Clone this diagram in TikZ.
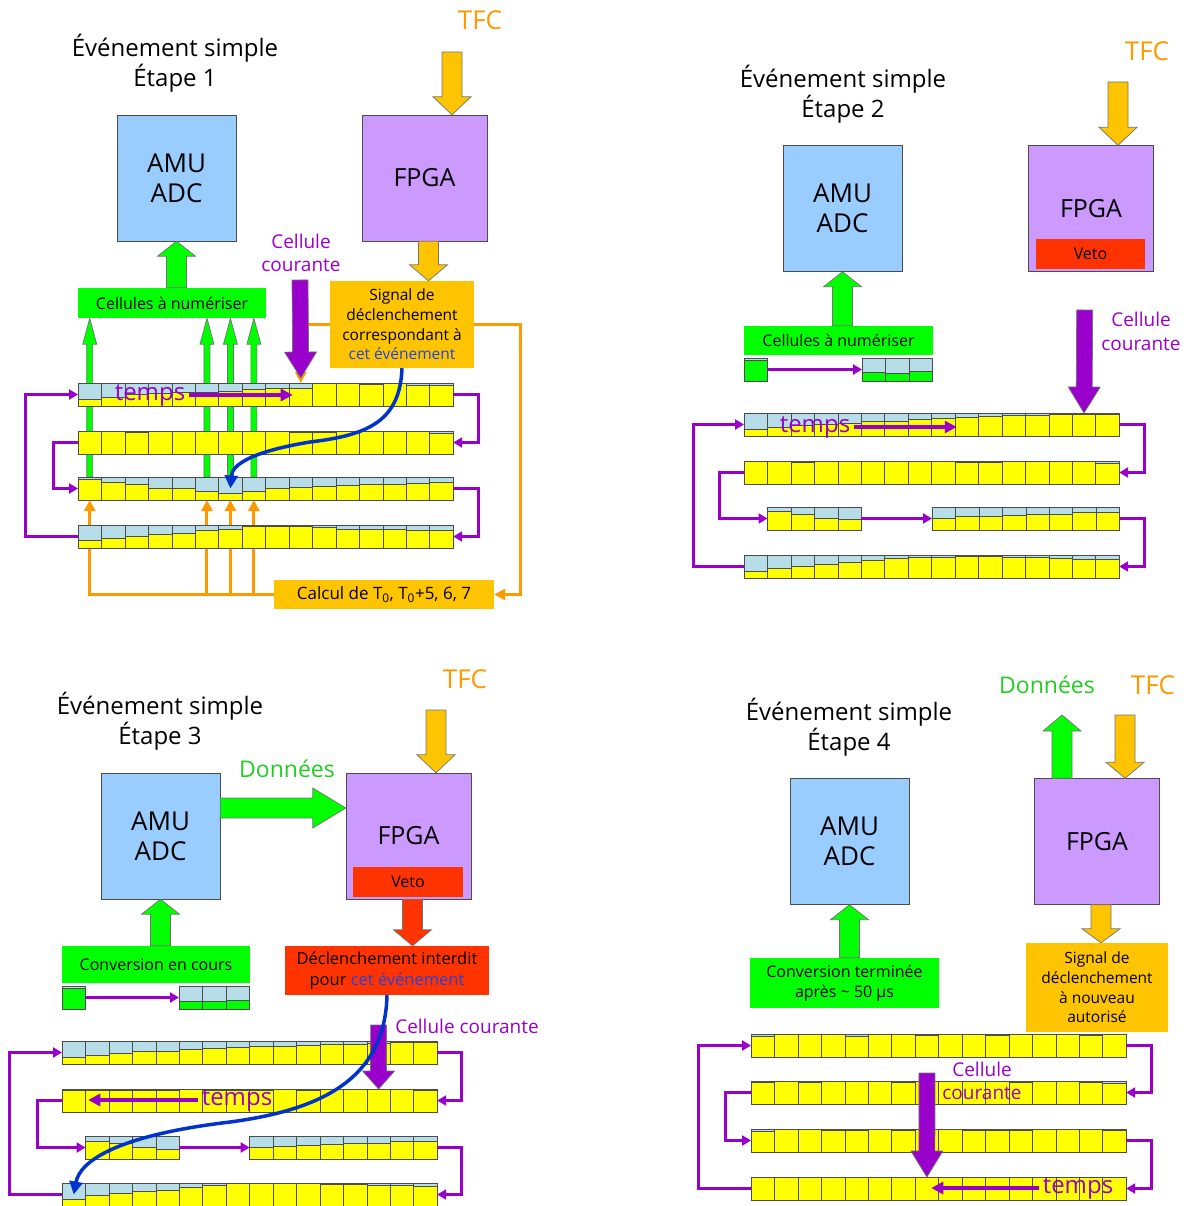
\documentclass[tikz,border=0pt]{standalone}
\usepackage{fontspec}
\setmainfont{Open Sans}
\usetikzlibrary{calc, arrows.meta, backgrounds}

\definecolor{amublue}{HTML}{99CCFF}
\definecolor{fpgapurple}{HTML}{CC99FF}
\definecolor{boxgreen}{HTML}{00FF00}
\definecolor{gold}{HTML}{FFC400}
\definecolor{tfcorange}{HTML}{FF9900}
\definecolor{purp}{HTML}{9900CC}
\definecolor{vetored}{HTML}{FF3300}
\definecolor{curveblue}{HTML}{0033CC}
\definecolor{cellblue}{HTML}{B7DEE8}
\definecolor{cellyellow}{HTML}{FFFF00}
\definecolor{textgreen}{HTML}{22CC22}
\definecolor{evblue}{HTML}{2244DD}

\newcommand{\fs}[2]{\fontsize{#1}{#2}\selectfont}

% fat block arrow: from, to, colour, half shaft, half head, head length
\newcommand{\bigarrow}[6]{%
  \coordinate (ba-h) at ($(#2)!#6!(#1)$);
  \filldraw[fill=#3, draw=black!55, line width=0.7pt]
    ($(#1)!#4!90:(#2)$) -- ($(ba-h)!#4!90:(#2)$) -- ($(ba-h)!#5!90:(#2)$) -- (#2)
    -- ($(ba-h)!#5!-90:(#2)$) -- ($(ba-h)!#4!-90:(#2)$) -- ($(#1)!#4!-90:(#2)$) -- cycle;
}

% row of memory cells: name, top left corner, number of cells, fill levels
\newcommand{\cellrow}[5][cellyellow]{%
  \node[rowframe, minimum width=#4*23.45pt, anchor=north west] (#2) at (#3) {};
  \foreach \lev [count=\k] in {#5} {
    \coordinate (#2-\k) at ($(#2.west)+({(\k-0.5)*23.45},0)$);
    \fill[cellblue] ($(#2.north west)+({(\k-1)*23.45},0)$) rectangle ++(23.45,23);
    \filldraw[fill=#1, draw=black!70, line width=0.6pt] ($(#2.south west)+({(\k-1)*23.45},0)$) rectangle ++(23.45,{-23*\lev});
    \draw[black!70, line width=0.6pt] ($(#2.north west)+({(\k-1)*23.45},0)$) rectangle ++(23.45,23);
  }
}

\tikzset{
  otip/.tip={Triangle[width=11pt,length=11pt]},
  ptip/.tip={Triangle[width=10pt,length=9pt]},
  paneltitle/.style={align=center, font=\fs{24}{30}},
  amubox/.style={draw=black!70, fill=amublue, minimum width=119pt, minimum height=126pt, align=center, font=\fs{26}{30}},
  fpgabox/.style={draw=black!70, fill=fpgapurple, minimum width=125pt, minimum height=126pt, font=\fs{25}{30}},
  vetobox/.style={fill=vetored, minimum width=109pt, minimum height=30pt, font=\fs{16}{18}},
  greenbox/.style={fill=boxgreen, minimum width=188pt, align=center, font=\fs{16}{20}},
  goldbox/.style={fill=gold, align=center, font=\fs{15.5}{19.7}},
  redbox/.style={fill=vetored, align=center, font=\fs{16.5}{20.5}},
  tfclabel/.style={text=tfcorange, font=\fs{26}{30}},
  datalabel/.style={text=textgreen, font=\fs{23}{27}},
  courlabel/.style={text=purp, align=center, font=\fs{19}{23.5}},
  tempslabel/.style={text=purp, font=\fs{24}{28}},
  rowframe/.style={draw=black!70, line width=0.6pt, inner sep=0pt, outer sep=0pt, minimum height=23pt},
  cyclearrow/.style={draw=purp, line width=3pt, -ptip},
  timearrow/.style={draw=purp, line width=3.5pt, -{Triangle[width=12pt,length=12pt]}},
  orangeline/.style={draw=tfcorange, line width=3pt, -otip},
  curvearrow/.style={draw=curveblue, line width=3.5pt, -{Triangle[width=13pt,length=13pt]}},
}

\begin{document}
\begin{tikzpicture}[x=1pt, y=-1pt]
  \useasboundingbox (0,0) rectangle (1189,1206);

  % ---------------- Etape 1 ----------------
  \node[paneltitle] (t1) at (175,63) {Événement simple\\Étape 1};
  \node[tfclabel] (tfc1) at (480,20) {TFC};
  \node[amubox] (amu1) at (176.5,178) {AMU\\ADC};
  \node[fpgabox] (fpga1) at (424.5,178) {FPGA};
  \node[greenbox, minimum height=30pt] (cel1) at (172,303) {Cellules à numériser};
  \node[goldbox, minimum width=144pt, minimum height=87pt] (sig1) at (402,324.5)
    {Signal de\\déclenchement\\correspondant à\\\textcolor{evblue}{cet événement}};
  \node[goldbox, minimum width=220pt, minimum height=29pt, font=\fs{17}{20}] (calc1) at (384,594.5)
    {Calcul de T\textsubscript{0}, T\textsubscript{0}+5, 6, 7};
  \node[courlabel] (cc1) at (301,253) {Cellule\\courante};

  % memory rows
  \cellrow{p1r1}{78,383}{16}{0.29,0.4,0.5,0.55,0.58,0.6,0.66,0.71,0.77,0.76,1,1,0.95,1,0.92,0.92}
  \cellrow{p1r2}{78,431}{16}{1,1,0.95,1,1,1,1,1,1,0.93,0.93,1,1,1,0.97,0.9}
  \cellrow{p1r3}{78,477}{16}{0.89,0.79,0.7,0.53,0.49,0.36,0.31,0.36,0.5,0.57,0.6,0.64,0.67,0.7,0.74,0.77}
  \cellrow{p1r4}{78,525}{16}{0.32,0.42,0.53,0.6,0.65,0.75,0.83,0.93,0.93,0.93,0.88,0.83,0.83,0.8,0.79,0.79}

  \begin{scope}[on background layer]
    % cells sent to the ADC
    \foreach \k in {1,6,7,8} {
      \coordinate (g\k) at (p1r3-\k |- p1r3.north);
      \coordinate (h\k) at (p1r3-\k |- cel1.south);
      \bigarrow{g\k}{h\k}{boxgreen}{3pt}{7pt}{26pt}
    }
    % trigger path
    \coordinate (otap) at (p1r1-10 |- sig1.west);
    \coordinate (otop) at (p1r1-10 |- p1r1.north);
    \draw[orangeline, otip-otip] (otop) -- (otap) -- ++(220,0) |- (calc1.east);
    \draw[orangeline] (calc1.west) -| (p1r3-1 |- p1r3.south);
    \foreach \k in {6,7,8}
      \draw[orangeline] (p1r3-\k |- calc1.west) -- (p1r3-\k |- p1r3.south);
  \end{scope}

  \node[tempslabel] (tp1) at (150,395) {temps};
  \draw[timearrow] (tp1.east) -- ++(104,0);

  \draw[cyclearrow] (p1r1.east) -- ++(25,0) |- (p1r2.east);
  \draw[cyclearrow] (p1r2.west) -- ++(-25,0) |- (p1r3.west);
  \draw[cyclearrow] (p1r3.east) -- ++(25,0) |- (p1r4.east);
  \draw[cyclearrow] (p1r4.west) -- ++(-53,0) |- (p1r1.west);

  % block arrows
  \coordinate (tfc1in) at (452,52);
  \coordinate (tfc1out) at (tfc1in |- fpga1.north);
  \bigarrow{tfc1in}{tfc1out}{gold}{10pt}{19pt}{18pt}
  \coordinate (fp1out) at ($(fpga1.south)+(4,0)$);
  \coordinate (sig1in) at (fp1out |- sig1.north);
  \bigarrow{fp1out}{sig1in}{gold}{10pt}{19pt}{16pt}
  \coordinate (cel1out) at (amu1.south |- cel1.north);
  \bigarrow{cel1out}{amu1.south}{boxgreen}{10pt}{19pt}{15pt}
  \coordinate (cc1top) at (300,280);
  \coordinate (cc1tip) at ($(otop)+(0,-5)$);
  \bigarrow{cc1top}{cc1tip}{purp}{8pt}{16pt}{26pt}

  \draw[curvearrow] (sig1.south) .. controls (400,420) and (370,435) .. (310,442)
    .. controls (250,452) and (232,465) .. (p1r3-7);

  % ---------------- Etape 2 ----------------
  \node[paneltitle] (t2) at (843,94) {Événement simple\\Étape 2};
  \node[tfclabel] (tfc2) at (1147,51) {TFC};
  \node[amubox] (amu2) at (842.5,208.5) {AMU\\ADC};
  \node[fpgabox] (fpga2) at (1091,208.5) {FPGA};
  \node[vetobox] (veto2) at (1090.5,254) {Veto};
  \node[greenbox, minimum height=29pt, minimum width=189pt] (cel2) at (838.5,340.5) {Cellules à numériser};
  \node[courlabel] (cc2) at (1141,331.5) {Cellule\\courante};

  \cellrow[boxgreen]{p2g}{744,358}{1}{0.9}
  \cellrow[boxgreen]{p2s}{862,358}{3}{0.4,0.35,0.42}
  \draw[cyclearrow] (p2g.east) -- (p2s.west);

  \cellrow{p2r1}{744,413}{16}{0.29,0.38,0.45,0.5,0.56,0.63,0.66,0.72,0.78,0.82,0.85,0.9,0.92,0.95,0.95,0.93}
  \cellrow{p2r2}{744,461}{16}{1,1,0.93,1,1,1,1,1,1,0.93,0.93,1,1,1,1,0.92}
  \cellrow{p2r3a}{767.5,507}{4}{0.82,0.7,0.52,0.45}
  \cellrow{p2r3b}{932,507}{8}{0.5,0.58,0.6,0.64,0.68,0.7,0.75,0.78}
  \cellrow{p2r4}{744,555}{16}{0.3,0.43,0.53,0.6,0.67,0.75,0.85,0.92,0.92,0.93,0.93,0.9,0.9,0.85,0.8,0.8}

  \node[tempslabel] (tp2) at (815,427) {temps};
  \draw[timearrow] (tp2.east) -- ++(103,0);

  \draw[cyclearrow] (p2r1.east) -- ++(25,0) |- (p2r2.east);
  \draw[cyclearrow] (p2r2.west) -- ++(-25,0) |- (p2r3a.west);
  \draw[cyclearrow] (p2r3a.east) -- (p2r3b.west);
  \draw[cyclearrow] (p2r3b.east) -- ++(25,0) |- (p2r4.east);
  \draw[cyclearrow] (p2r4.west) -- ++(-51,0) |- (p2r1.west);

  \coordinate (tfc2in) at (1118,82);
  \coordinate (tfc2out) at (tfc2in |- fpga2.north);
  \bigarrow{tfc2in}{tfc2out}{gold}{10pt}{19pt}{18pt}
  \coordinate (cel2out) at (amu2.south |- cel2.north);
  \bigarrow{cel2out}{amu2.south}{boxgreen}{10pt}{19pt}{15pt}
  \coordinate (cc2top) at (1084.7,310);
  \coordinate (cc2tip) at (p2r1-15 |- p2r1.north);
  \bigarrow{cc2top}{cc2tip}{purp}{8pt}{16pt}{26pt}

  % ---------------- Etape 3 ----------------
  \node[paneltitle] (t3) at (160,721) {Événement simple\\Étape 3};
  \node[tfclabel] (tfc3) at (465,679) {TFC};
  \node[datalabel] (dat3) at (287,769) {Données};
  \node[amubox] (amu3) at (160.5,836) {AMU\\ADC};
  \node[fpgabox] (fpga3) at (408.5,836) {FPGA};
  \node[vetobox, minimum width=110pt] (veto3) at (408,882) {Veto};
  \node[greenbox, minimum height=37pt] (conv3) at (156,964.5) {Conversion en cours};
  \node[redbox, minimum width=204pt, minimum height=49pt] (decl3) at (387,970.5)
    {Déclenchement interdit\\pour \textcolor{evblue}{cet événement}};
  \node[courlabel] (cc3) at (467,1026) {Cellule courante};

  \cellrow[boxgreen]{p3g}{62,986}{1}{0.92}
  \cellrow[boxgreen]{p3s}{179,986}{3}{0.35,0.33,0.4}
  \draw[cyclearrow] (p3g.east) -- (p3s.west);

  \cellrow{p3r1}{62,1041}{16}{0.3,0.38,0.46,0.54,0.56,0.63,0.68,0.72,0.75,0.77,0.8,0.85,0.87,0.9,0.93,0.93}
  \cellrow{p3r2}{62,1089}{16}{0.93,0.93,0.93,0.93,0.93,1,0.93,0.93,0.93,1,0.93,1,1,1,1,0.93}
  \cellrow{p3r3a}{85.5,1136}{4}{0.78,0.68,0.52,0.43}
  \cellrow{p3r3b}{249.6,1136}{8}{0.5,0.55,0.6,0.63,0.67,0.7,0.75,0.78}
  \cellrow{p3r4}{62,1183}{16}{0.3,0.45,0.55,0.63,0.7,0.8,0.9,0.97,1,1,0.97,0.93,0.93,0.9,0.88,0.85}

  \node[tempslabel] (tp3) at (237,1100) {temps};
  \draw[timearrow] (tp3.west) -- ++(-110,0);

  \draw[cyclearrow] (p3r1.east) -- ++(24,0) |- (p3r2.east);
  \draw[cyclearrow] (p3r2.west) -- ++(-25,0) |- (p3r3a.west);
  \draw[cyclearrow] (p3r3a.east) -- (p3r3b.west);
  \draw[cyclearrow] (p3r3b.east) -- ++(24,0) |- (p3r4.east);
  \draw[cyclearrow] (p3r4.west) -- ++(-53,0) |- (p3r1.west);

  \coordinate (tfc3in) at (436,710);
  \coordinate (tfc3out) at (tfc3in |- fpga3.north);
  \bigarrow{tfc3in}{tfc3out}{gold}{10pt}{19pt}{18pt}
  \coordinate (dat3a) at ($(amu3.east)+(0,-28)$);
  \coordinate (dat3b) at ($(fpga3.west)+(0,-28)$);
  \bigarrow{dat3a}{dat3b}{boxgreen}{10pt}{20pt}{33pt}
  \coordinate (conv3out) at (amu3.south |- conv3.north);
  \bigarrow{conv3out}{amu3.south}{boxgreen}{10pt}{19pt}{15pt}
  \coordinate (veto3out) at ($(fpga3.south)+(4,0)$);
  \coordinate (decl3in) at (veto3out |- decl3.north);
  \bigarrow{veto3out}{decl3in}{vetored}{10pt}{19pt}{16pt}
  \coordinate (cc3top) at (378.6,1025);
  \coordinate (cc3tip) at (p3r2-14 |- p3r2.north);
  \bigarrow{cc3top}{cc3tip}{purp}{8pt}{16pt}{18pt}

  \draw[curvearrow] (decl3.south) .. controls (385,1080) and (320,1110) .. (230,1122)
    .. controls (120,1135) and (80,1160) .. (p3r4-1);

  % ---------------- Etape 4 ----------------
  \node[paneltitle] (t4) at (849,727) {Événement simple\\Étape 4};
  \node[datalabel] (dat4) at (1047,685) {Données};
  \node[tfclabel] (tfc4) at (1153,685) {TFC};
  \node[amubox] (amu4) at (849.5,841.5) {AMU\\ADC};
  \node[fpgabox] (fpga4) at (1097,841.5) {FPGA};
  \node[goldbox, minimum width=142pt, minimum height=89pt] (sig4) at (1097,987.5)
    {Signal de\\déclenchement\\à nouveau\\autorisé};
  \node[greenbox, minimum width=189pt, minimum height=50pt] (conv4) at (844.5,983)
    {Conversion terminée\\après \textasciitilde{} 50 µs};

  \cellrow{p4r1}{751,1034}{16}{0.92,1,1,1,0.92,1,1,0.95,1,1,0.95,1,1,1,0.93,1}
  \cellrow{p4r2}{751,1081}{16}{0.95,1,0.93,1,1,1,0.95,1,1,1,1,0.95,1,1,0.95,0.92}
  \cellrow{p4r3}{751,1129}{16}{0.9,1,1,0.95,0.95,1,0.95,1,1,0.95,0.95,0.95,1,1,1,0.95}
  \cellrow{p4r4}{751,1177}{16}{1,1,1,1,1,1,1,1,1,1,1,1,1,1,1,1}

  \node[courlabel] (cc4) at (982,1081) {Cellule\\courante};
  \node[tempslabel] (tp4) at (1078,1188) {temps};
  \draw[timearrow] (tp4.west) -- ++(-108,0);

  \draw[cyclearrow] (p4r1.east) -- ++(25,0) |- (p4r2.east);
  \draw[cyclearrow] (p4r2.west) -- ++(-26,0) |- (p4r3.west);
  \draw[cyclearrow] (p4r3.east) -- ++(25,0) |- (p4r4.east);
  \draw[cyclearrow] (p4r4.west) -- ++(-53,0) |- (p4r1.west);

  \coordinate (dat4a) at ($(fpga4.north)+(-35,0)$);
  \coordinate (dat4b) at (dat4a |- 0,715);
  \bigarrow{dat4a}{dat4b}{boxgreen}{10pt}{19pt}{16pt}
  \coordinate (tfc4in) at (1125,715);
  \coordinate (tfc4out) at (tfc4in |- fpga4.north);
  \bigarrow{tfc4in}{tfc4out}{gold}{10pt}{19pt}{16pt}
  \coordinate (fp4out) at ($(fpga4.south)+(4,0)$);
  \coordinate (sig4in) at (fp4out |- sig4.north);
  \bigarrow{fp4out}{sig4in}{gold}{10pt}{19pt}{14pt}
  \coordinate (conv4out) at (amu4.south |- conv4.north);
  \bigarrow{conv4out}{amu4.south}{boxgreen}{10pt}{19pt}{15pt}
  \coordinate (cc4top) at (926.9,1073);
  \coordinate (cc4tip) at (p4r4-8 |- p4r4.north);
  \bigarrow{cc4top}{cc4tip}{purp}{8pt}{16pt}{26pt}
\end{tikzpicture}
\end{document}
